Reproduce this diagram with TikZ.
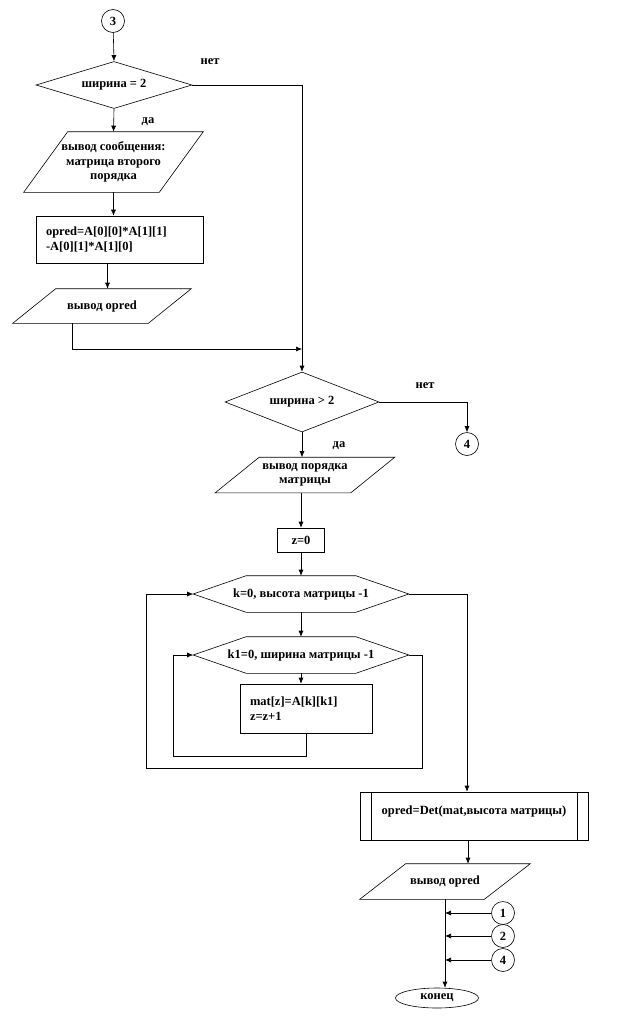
\documentclass[tikz,border=0pt]{standalone}
\usepackage{fontspec}
\setmainfont{Liberation Serif}
\usepackage{tikz}
\usetikzlibrary{shapes.geometric, arrows.meta, positioning, calc}

\begin{document}
\begin{tikzpicture}[
    x=1pt, y=-1pt, line width=0.6pt,
    every node/.style={font=\fontsize{12.5}{14.5}\selectfont\bfseries},
    decision/.style={diamond, draw, inner sep=0pt, aspect=3},
    io/.style={rectangle, inner sep=0pt, align=center},
    hexa/.style={rectangle, inner sep=0pt, minimum width=215, minimum height=36},
    block/.style={rectangle, draw, inner sep=0pt, align=left},
    conn/.style={circle, draw, inner sep=0pt, minimum size=23},
    term/.style={ellipse, draw, inner sep=0pt, minimum width=83, minimum height=20},
    lbl/.style={inner sep=0pt},
    line/.style={draw, -{Latex[length=6pt, width=5pt]}}
]
\useasboundingbox (0,0) rectangle (636,1020);

\node [conn] (c3) at (113,21) {3};
\node [decision, minimum width=156, minimum height=47] (d1) at (114,85) {ширина = 2};
\node [lbl] (no1) at (210,62) {нет};
\node [lbl] (yes1) at (148,122) {да};
\node [io, minimum width=179, minimum height=60] (p1) at (113.5,162) {вывод сообщения:\\матрица второго\\порядка};
\draw ([xshift=44]p1.north west) -- (p1.north east) -- ([xshift=-44]p1.south east) -- (p1.south west) -- cycle;
\node [block, minimum width=167, minimum height=47, text width=147] (b1) at (119.5,239.5) {opred=A[0][0]*A[1][1]\\-A[0][1]*A[1][0]};
\node [io, minimum width=178, minimum height=34] (p2) at (102,306) {вывод opred};
\draw ([xshift=43]p2.north west) -- (p2.north east) -- ([xshift=-43]p2.south east) -- (p2.south west) -- cycle;
\coordinate (j1) at (302,349);

\node [decision, minimum width=154, minimum height=60] (d2) at (302,402) {ширина > 2};
\node [lbl] (no2) at (425,386) {нет};
\node [lbl] (yes2) at (339,446) {да};
\node [conn] (c4a) at (467,444) {4};
\node [io, minimum width=179, minimum height=35] (p3) at (305,475) {вывод порядка\\матрицы};
\draw ([xshift=44]p3.north west) -- (p3.north east) -- ([xshift=-44]p3.south east) -- (p3.south west) -- cycle;
\node [block, minimum width=47, minimum height=24] (z0) at (301,540) {z=0};

\node [hexa] (h1) at (301,594) {k=0, высота матрицы -1};
\draw (h1.west) -- ([xshift=53]h1.north west) -- ([xshift=-53]h1.north east) -- (h1.east) -- ([xshift=-53]h1.south east) -- ([xshift=53]h1.south west) -- cycle;
\node [hexa] (h2) at (301,655) {k1=0, ширина матрицы -1};
\draw (h2.west) -- ([xshift=53]h2.north west) -- ([xshift=-53]h2.north east) -- (h2.east) -- ([xshift=-53]h2.south east) -- ([xshift=53]h2.south west) -- cycle;
\node [block, minimum width=132, minimum height=49, text width=112] (bm) at (306,708.5) {mat[z]=A[k][k1]\\z=z+1};

\node [block, minimum width=228, minimum height=48, text depth=12pt] (det) at (474,816) {opred=Det(mat,высота матрицы)};
\draw ([xshift=12]det.north west) -- ([xshift=12]det.south west);
\draw ([xshift=-11]det.north east) -- ([xshift=-11]det.south east);
\node [io, minimum width=170, minimum height=35] (p4) at (445,881.5) {вывод opred};
\draw ([xshift=46]p4.north west) -- (p4.north east) -- ([xshift=-46]p4.south east) -- (p4.south west) -- cycle;
\node [conn] (c1) at (503,913) {1};
\node [conn] (c2) at (503,936) {2};
\node [conn] (c4b) at (503,960) {4};
\node [term] (stop) at (437,998) {конец};

\path [line] (c3) -- (d1.north);
\path [line] (d1.south) -- (p1.north);
\path [line] (p1.south) -- (p1.south |- b1.north);
\path [line] ([xshift=-12]b1.south) -- ([xshift=-12]b1.south |- p2.north);
\path [line] ([xshift=-30]p2.south) |- (j1);
\path [line] (d1.east) -| (d2.north);

\path [line] (d2.south) -- (d2.south |- p3.north);
\path [line] (d2.east) -| (c4a.north);
\path [line] (z0.north |- p3.south) -- (z0.north);
\path [line] (z0) -- (h1);
\path [line] (h1) -- (h2);
\path [line] (h2.south) -- (h2.south |- bm.north);
\path [line] (bm.south) -- ++(0,23) -| ([xshift=-20]h2.west) -- (h2.west);
\path [line] (h2.east) -- ++(13,0) -- ++(0,113) -| ([xshift=-47]h1.west) -- (h1.west);
\path [line] (h1.east) -| ([xshift=-7]det.north);

\path [line] ([xshift=-6]det.south) -- ([xshift=-6]det.south |- p4.north);
\path [line] (p4.south) -- (p4.south |- stop.north);
\path [line] (c1) -- (p4.south |- c1);
\path [line] (c2) -- (p4.south |- c2);
\path [line] (c4b) -- (p4.south |- c4b);
\end{tikzpicture}
\end{document}
